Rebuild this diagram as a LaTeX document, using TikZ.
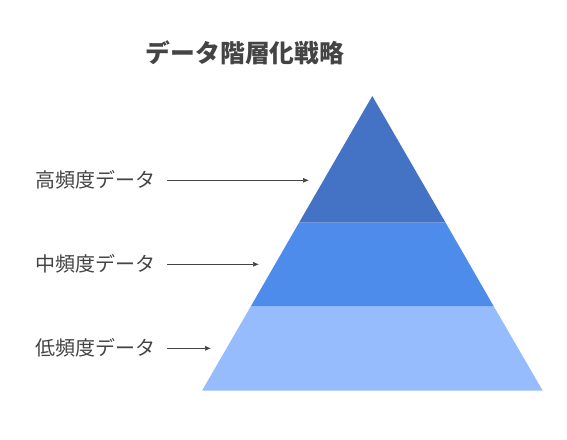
\documentclass[tikz,border=0pt]{standalone}
\usepackage{fontspec}
\setmainfont{Noto Sans CJK JP}
\usetikzlibrary{arrows.meta}
\definecolor{bandtop}{HTML}{4472C4}
\definecolor{bandmid}{HTML}{4E8CEC}
\definecolor{bandlow}{HTML}{96BCFD}
\definecolor{txt}{HTML}{444444}
\tikzset{
  lbl/.style={anchor=west,inner sep=0pt,text=txt,font=\fontsize{20}{22}\selectfont},
  conn/.style={draw=txt,line width=0.7pt,-{Latex[length=6pt,width=5pt]}},
}
\begin{document}
\begin{tikzpicture}[x=1pt,y=-1pt]
\useasboundingbox (0,0) rectangle (567,439);
% pyramid bands
\fill[bandtop] (372.3,96) -- (445.6,222.7) -- (299.0,222.7) -- cycle;
\fill[bandmid] (299.0,222.7) -- (445.6,222.7) -- (494.0,306.7) -- (250.6,306.7) -- cycle;
\fill[bandlow] (250.6,306.7) -- (494.0,306.7) -- (542.7,390.7) -- (202.0,390.7) -- cycle;
% title
\node[text=txt,font=\fontsize{24.8}{27}\selectfont\bfseries,inner sep=0pt] (title) at (245,53) {データ階層化戦略};
% labels
\node[lbl] (l1) at (35,180.3) {高頻度データ};
\node[lbl] (l2) at (35,264.3) {中頻度データ};
\node[lbl] (l3) at (35,348.3) {低頻度データ};
\coordinate (s1) at (167,180.3); \coordinate (t1) at (309,180.3);
\coordinate (s2) at (167,264.3); \coordinate (t2) at (259,264.3);
\coordinate (s3) at (167,348.3); \coordinate (t3) at (211,348.3);
\draw[conn] (s1) -- (t1);
\draw[conn] (s2) -- (t2);
\draw[conn] (s3) -- (t3);
\end{tikzpicture}
\end{document}
